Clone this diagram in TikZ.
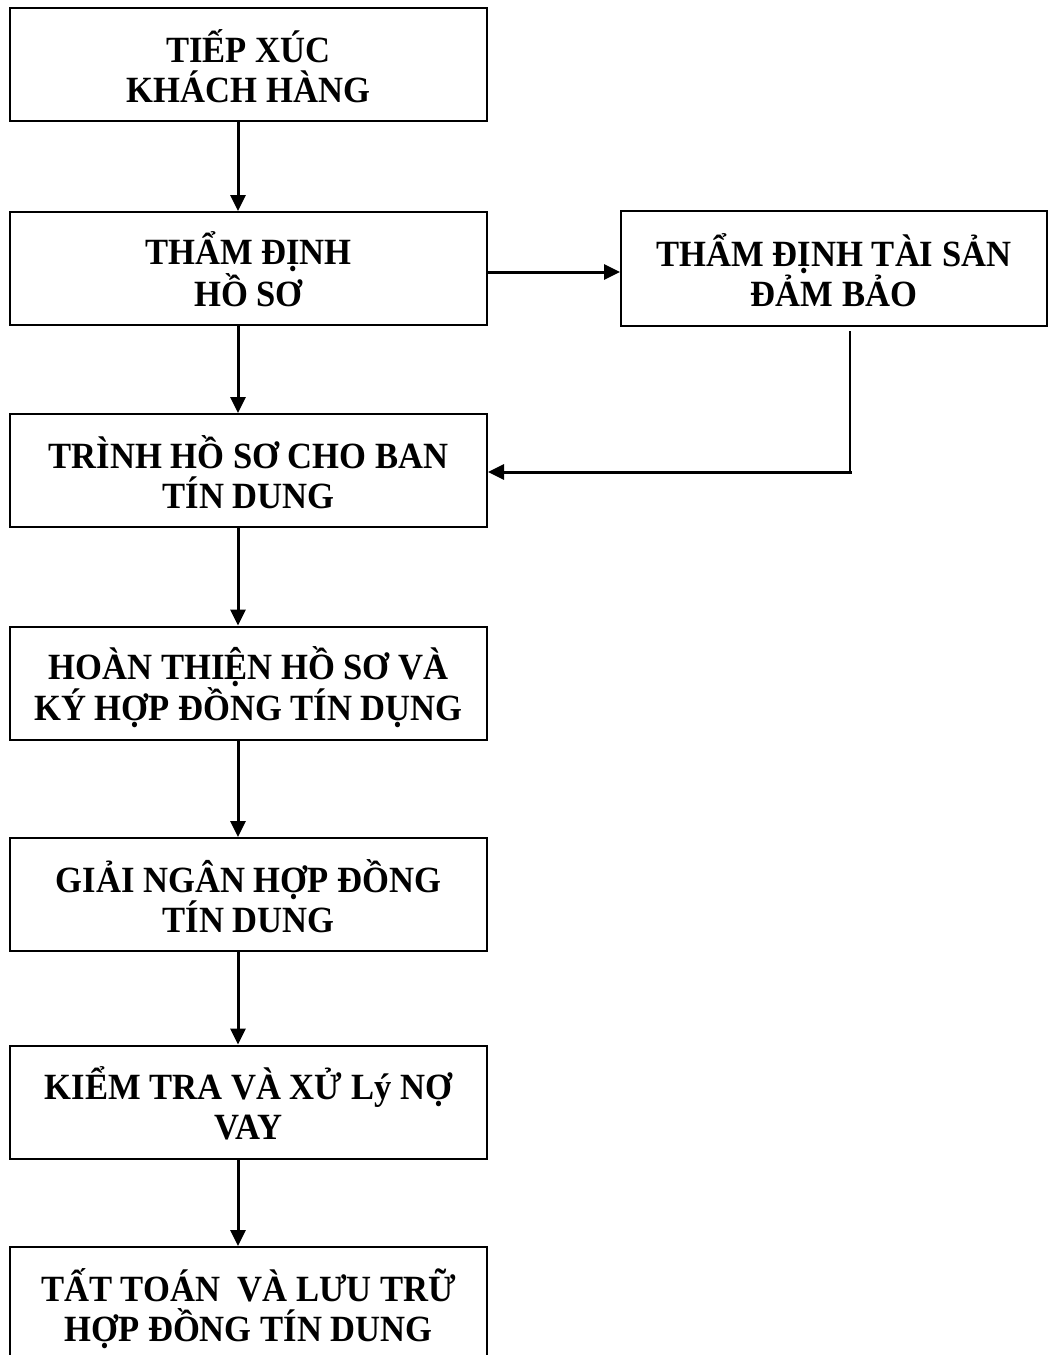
\documentclass[tikz,border=0pt]{standalone}
\usepackage{fontspec}
\setmainfont[FakeStretch=0.935]{Liberation Serif}
\usetikzlibrary{arrows.meta}
\begin{document}
\begin{tikzpicture}[x=1pt,y=-1pt,
  box/.style={draw,line width=2pt,rectangle,minimum width=477pt,minimum height=113pt,inner sep=0pt,align=center,
    text height=83pt,text depth=8pt,font=\fontsize{37}{40}\selectfont\bfseries},
  rbox/.style={box,minimum width=426pt,minimum height=115pt},
  arr/.style={line width=3pt,-{Triangle[length=16pt,width=15pt]}}]
\clip (0,0) rectangle (1050,1355);
\fill[white] (0,0) rectangle (1050,1355);
\node[box] (b1) at (248.5,64.5) {TIẾP XÚC\\KHÁCH HÀNG};
\node[box] (b2) at (248.5,268.5) {THẨM ĐỊNH\\HỒ SƠ};
\node[rbox] (r) at (834,268.5) {THẨM ĐỊNH TÀI SẢN\\ĐẢM BẢO};
\node[box] (b3) at (248.5,470.5) {TRÌNH HỒ SƠ CHO BAN\\TÍN DUNG};
\node[box] (b4) at (248.5,683) {HOÀN THIỆN HỒ SƠ VÀ\\KÝ HỢP ĐỒNG TÍN DỤNG};
\node[box] (b5) at (248.5,894.5) {GIẢI NGÂN HỢP ĐỒNG\\TÍN DUNG};
\node[box] (b6) at (248.5,1102) {KIỂM TRA VÀ XỬ Lý NỢ\\VAY};
\node[box] (b7) at (248.5,1303.5) {TẤT TOÁN\ \ VÀ LƯU TRỮ\\HỢP ĐỒNG TÍN DUNG};
\coordinate (ax) at (238,0);
\coordinate (hy) at (0,272);
\coordinate (hy2) at (0,472);
\coordinate (vx) at (850,0);
\draw[arr] (b1.south -| ax) -- (b2.north -| ax);
\draw[arr] (b2.south -| ax) -- (b3.north -| ax);
\draw[arr] (b3.south -| ax) -- (b4.north -| ax);
\draw[arr] (b4.south -| ax) -- (b5.north -| ax);
\draw[arr] (b5.south -| ax) -- (b6.north -| ax);
\draw[arr] (b6.south -| ax) -- (b7.north -| ax);
\draw[arr] (b2.east |- hy) -- (r.west |- hy);
\draw[line width=2pt] ([yshift=-4pt]r.south -| vx) -- (vx |- hy2);
\draw[arr] ([xshift=1.5pt]vx |- hy2) -- (b3.east |- hy2);
\end{tikzpicture}
\end{document}
